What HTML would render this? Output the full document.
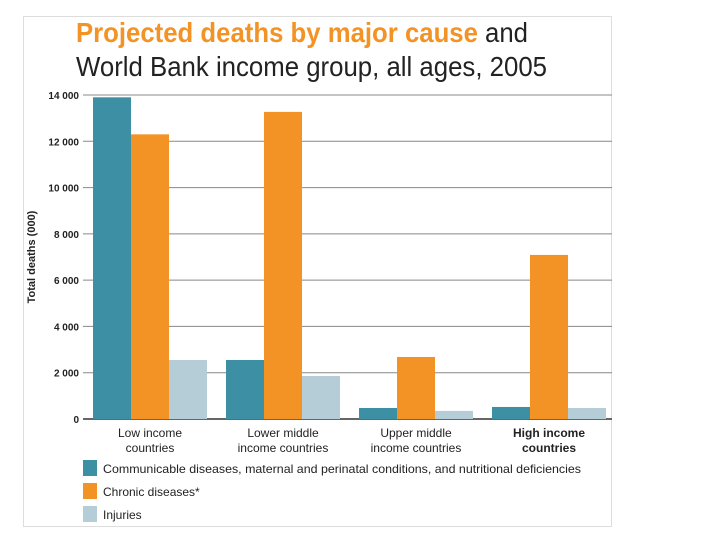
<!DOCTYPE html>
<html><head><meta charset="utf-8"><style>
body{margin:0;background:#fff;width:720px;height:540px;overflow:hidden;font-family:"Liberation Sans",sans-serif}
svg{position:absolute;left:0;top:0}
</style></head><body>
<svg width="720" height="540">
<rect x="23.5" y="16.5" width="588" height="510" fill="#fff" stroke="#ddd"/>
<text x="76" y="42" font-size="28" font-weight="bold" fill="#f39325" textLength="452" lengthAdjust="spacingAndGlyphs">Projected deaths by major cause<tspan fill="#222" font-weight="normal"> and</tspan></text>
<text x="76" y="76" font-size="28" fill="#222" textLength="471" lengthAdjust="spacingAndGlyphs">World Bank income group, all ages, 2005</text>
<text transform="translate(35,257) rotate(-90)" text-anchor="middle" font-size="11" font-weight="bold" fill="#222">Total deaths (000)</text>
<g id="grid"></g><g id="bars"></g><g id="xlab"></g><g id="legend"></g>
</svg>
<script>
const categories=[["Low income","countries"],["Lower middle","income countries"],["Upper middle","income countries"],["High income","countries"]];
const communicable=[13900,2550,475,520];
const chronic=[12300,13270,2680,7090];
const injuries=[2550,1860,350,475];
const yTicks=[0,2000,4000,6000,8000,10000,12000,14000];
const yTickLabels=["0","2 000","4 000","6 000","8 000","10 000","12 000","14 000"];
const seriesNames=["Communicable diseases, maternal and perinatal conditions, and nutritional deficiencies","Chronic diseases*","Injuries"];
const colors=["#3d8fa3","#f39325","#b5cdd7"];
const NS="http://www.w3.org/2000/svg";
const y0=419,y1=95,yMax=14000;
const y=v=>y0-(y0-y1)*v/yMax;
const groupX=i=>93+i*133, bw=38;
function mk(t,a,p){const e=document.createElementNS(NS,t);for(const k in a)e.setAttribute(k,a[k]);p.appendChild(e);return e;}
const grid=document.getElementById('grid');
yTicks.forEach((t,i)=>{
 const l=mk('line',{x1:83,x2:612,y1:y(t),y2:y(t),stroke:i==0?'#666':'#888','stroke-width':i==0?2:1},grid);
 
 
 const tx=mk('text',{x:79,y:y(t)+4,'text-anchor':'end','font-size':10,'font-weight':'bold',fill:'#222'},grid);
 tx.textContent=yTickLabels[i];
 
 
});
const bars=document.getElementById('bars');
[communicable,chronic,injuries].forEach((s,si)=>{
 s.forEach((v,i)=>{
  const r=mk('rect',{x:groupX(i)+si*bw,y:y(v),width:bw,height:y0-y(v),fill:colors[si]},bars);
  
  
 });
});
const xl=document.getElementById('xlab');
categories.forEach((c,i)=>{
 c.forEach((ln,j)=>{
  const t=mk('text',{x:groupX(i)+1.5*bw,y:437+j*15,'text-anchor':'middle','font-size':12,fill:'#222','font-weight':i==3?'bold':'normal'},xl);
  t.textContent=ln;
  
  
 });
});
const lg=document.getElementById('legend');
seriesNames.forEach((n,i)=>{
 const r=mk('rect',{x:83,y:460+i*23,width:14,height:16,fill:colors[i]},lg);
 
 
 const t=mk('text',{x:103,y:473+i*23,'font-size':12,fill:'#222'},lg);
 t.textContent=n;
 if(i==0){t.setAttribute('textLength','478');t.setAttribute('lengthAdjust','spacingAndGlyphs');}
 
 
});
</script>
</body></html>
